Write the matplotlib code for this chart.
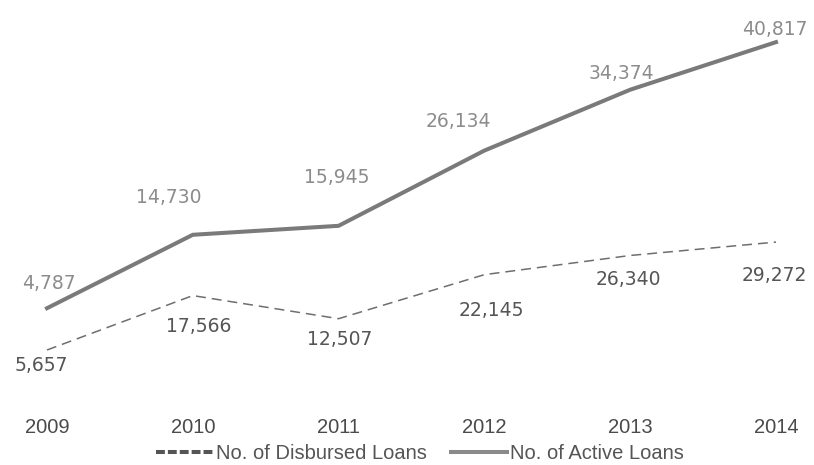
import matplotlib.pyplot as plt
from matplotlib.lines import Line2D

years = [2009, 2010, 2011, 2012, 2013, 2014]
active_loans = [4787, 14730, 15945, 26134, 34374, 40817]
disbursed_loans = [5657, 17566, 12507, 22145, 26340, 29272]

# label offsets in points (dx, dy) relative to each point
active_offsets = [(1, 18), (-17, 27), (-1, 35), (-19, 21), (-6, 12), (-1, 9)]
disbursed_offsets = [(-4, -11), (4, -22), (1, -15), (5, -26), (-1, -17), (-1, -24)]

fig = plt.figure(figsize=(8.14, 4.65), dpi=100)
ax = fig.add_axes([47 / 814, 85 / 465, 729 / 814, 360 / 465])
ax2 = ax.twinx()

ax.plot(years, active_loans, color="#7a7a7a", linewidth=2.9,
        solid_joinstyle="miter", clip_on=False)
ax2.plot(years, disbursed_loans, color="#6e6e6e", linewidth=1.1,
         dashes=(6.5, 3.9), clip_on=False)

ax.set_xlim(2009, 2014)
ax.set_ylim(-4934, 43814)
ax2.set_ylim(-908, 77867)

for x, v, off in zip(years, active_loans, active_offsets):
    ax.annotate(f"{v:,}", (x, v), xytext=off, textcoords="offset points",
                ha="center", va="center", fontsize=13.5, color="#8c8c8c",
                family="DejaVu Sans")

for x, v, off in zip(years, disbursed_loans, disbursed_offsets):
    ax2.annotate(f"{v:,}", (x, v), xytext=off, textcoords="offset points",
                 ha="center", va="center", fontsize=13.5, color="#555555",
                 family="DejaVu Sans")

for a in (ax, ax2):
    for s in a.spines.values():
        s.set_visible(False)
    a.set_yticks([])

ax.set_xticks(years)
ax.set_xticklabels([str(y) for y in years], fontsize=14.5, color="#4a4a4a",
                   family="Liberation Sans")
ax.tick_params(axis="x", length=0, pad=27)

handles = [
    Line2D([], [], color="#555555", linewidth=2.9, dashes=(2.2, 0.75)),
    Line2D([], [], color="#8a8a8a", linewidth=2.9),
]
fig.legend(handles, ["No. of Disbursed Loans", "No. of Active Loans"],
           loc="center", bbox_to_anchor=(0.516, 0.024), ncol=2, frameon=False,
           handlelength=2.8, handletextpad=0.15, columnspacing=1.2,
           prop={"family": "Liberation Sans", "size": 14.5},
           labelcolor="#555555")

fig.savefig("out.png", dpi=100)
